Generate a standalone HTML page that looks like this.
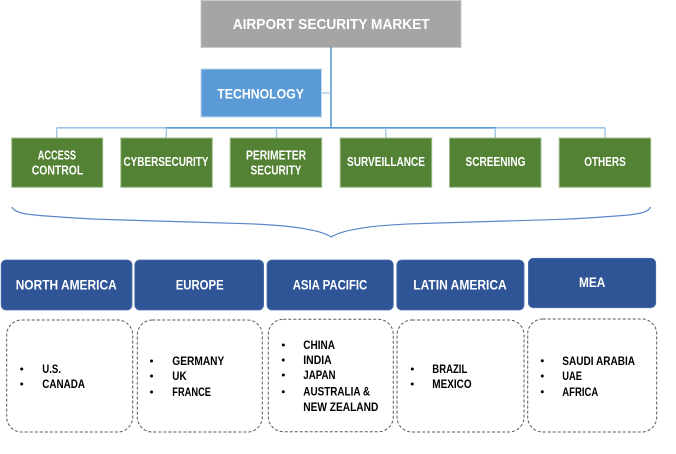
<!DOCTYPE html>
<html>
<head>
<meta charset="utf-8">
<style>
  html,body{margin:0;padding:0;background:#ffffff;}
  svg{display:block;}
  text{font-family:"Liberation Sans", Arial, sans-serif;font-weight:bold;}
  .w{fill:#ffffff;}
  .k{fill:#000000;}
</style>
</head>
<body>
<svg width="676" height="454" viewBox="0 0 676 454" xmlns="http://www.w3.org/2000/svg">
  <!-- Title -->
  <rect x="201" y="0.5" width="260" height="47" fill="#a5a5a5" stroke="#c9c9c9" stroke-width="1"/>
  <text class="w" x="232.7" y="29" font-size="15" textLength="197" lengthAdjust="spacingAndGlyphs">AIRPORT SECURITY MARKET</text>

  <!-- Vertical trunk -->
  <line x1="331" y1="47" x2="331" y2="128.5" stroke="#5b9bd5" stroke-width="1.6"/>
  <!-- Technology connector -->
  <line x1="321.5" y1="93" x2="331" y2="93" stroke="#9dc3e6" stroke-width="1.2"/>

  <!-- Technology -->
  <rect x="201" y="69" width="120.5" height="48" fill="#5b9bd5" stroke="#bdd7ee" stroke-width="1"/>
  <text class="w" x="217.3" y="98.5" font-size="13.5" textLength="86.7" lengthAdjust="spacingAndGlyphs">TECHNOLOGY</text>

  <!-- Horizontal bar -->
  <line x1="56.7" y1="127.8" x2="605" y2="127.8" stroke="#9dc3e6" stroke-width="1.6"/>
  <line x1="166" y1="127.8" x2="496" y2="127.8" stroke="#5b9bd5" stroke-width="1.6"/>
  <g stroke="#9dc3e6" stroke-width="1.3">
    <line x1="56.7" y1="127.8" x2="56.7" y2="138"/>
    <line x1="166.3" y1="127.8" x2="166.3" y2="138"/>
    <line x1="276.5" y1="127.8" x2="276.5" y2="138"/>
    <line x1="385.8" y1="127.8" x2="385.8" y2="138"/>
    <line x1="495.3" y1="127.8" x2="495.3" y2="138"/>
    <line x1="605" y1="127.8" x2="605" y2="138"/>
  </g>

  <!-- Green technology boxes -->
  <g fill="#548235" stroke="#9fbc8c" stroke-width="1">
    <rect x="11.7" y="138" width="91" height="49.3"/>
    <rect x="120.8" y="138" width="91.5" height="49.3"/>
    <rect x="230.2" y="138" width="91.5" height="49.3"/>
    <rect x="340.2" y="138" width="91.5" height="49.3"/>
    <rect x="449.5" y="138" width="91.5" height="49.3"/>
    <rect x="559.2" y="138" width="91.5" height="49.3"/>
  </g>
  <g font-size="12.5">
    <text class="w" x="37.7" y="159.3" textLength="38.3" lengthAdjust="spacingAndGlyphs">ACCESS</text>
    <text class="w" x="31.7" y="174.3" textLength="51.6" lengthAdjust="spacingAndGlyphs">CONTROL</text>
    <text class="w" x="123.5" y="166" textLength="85" lengthAdjust="spacingAndGlyphs">CYBERSECURITY</text>
    <text class="w" x="246" y="159.3" textLength="60" lengthAdjust="spacingAndGlyphs">PERIMETER</text>
    <text class="w" x="250.5" y="174.3" textLength="51" lengthAdjust="spacingAndGlyphs">SECURITY</text>
    <text class="w" x="347" y="166" textLength="78" lengthAdjust="spacingAndGlyphs">SURVEILLANCE</text>
    <text class="w" x="465.5" y="166" textLength="60" lengthAdjust="spacingAndGlyphs">SCREENING</text>
    <text class="w" x="584.2" y="166" textLength="41.6" lengthAdjust="spacingAndGlyphs">OTHERS</text>
  </g>

  <!-- Brace -->
  <path d="M12,207 C14,212 22,214 40,215.5 C60,217 80,218.5 100,219.3 C150,221 200,222 250,223.8 C275,224.8 292,226.5 305,228.8 C318,231 326,233.5 331.3,237
           C336.6,233.5 344.6,231 357.6,228.8 C370.6,226.5 387.6,224.8 412.6,223.8 C462.6,222 512.6,221 562.6,219.3 C582.6,218.5 602.6,217 622.6,215.5 C640.6,214 648.6,212 650.6,207"
        fill="none" stroke="#5a85c8" stroke-width="1.2"/>

  <!-- Region headers -->
  <g fill="#2f5597" stroke="#4a6fae" stroke-width="0.8">
    <rect x="1.2" y="260" width="130.8" height="50" rx="5" ry="5"/>
    <rect x="134.8" y="260" width="128.8" height="50" rx="5" ry="5"/>
    <rect x="267" y="260" width="126.3" height="50" rx="5" ry="5"/>
    <rect x="396.8" y="260" width="127.2" height="50" rx="5" ry="5"/>
    <rect x="528.4" y="258.3" width="127.3" height="49.4" rx="5" ry="5"/>
  </g>
  <g font-size="13.5">
    <text class="w" x="15.7" y="289.3" textLength="101" lengthAdjust="spacingAndGlyphs">NORTH AMERICA</text>
    <text class="w" x="175.7" y="289.3" textLength="48" lengthAdjust="spacingAndGlyphs">EUROPE</text>
    <text class="w" x="292.7" y="289.3" textLength="74.6" lengthAdjust="spacingAndGlyphs">ASIA PACIFIC</text>
    <text class="w" x="413.3" y="289.3" textLength="93.4" lengthAdjust="spacingAndGlyphs">LATIN AMERICA</text>
    <text class="w" x="579" y="286.8" textLength="26.3" lengthAdjust="spacingAndGlyphs">MEA</text>
  </g>

  <!-- Dashed country boxes -->
  <g fill="none" stroke="#595959" stroke-width="1" stroke-dasharray="3,2">
    <rect x="6.7" y="320" width="126" height="112" rx="15" ry="15"/>
    <rect x="137.3" y="320" width="125" height="112" rx="15" ry="15"/>
    <rect x="268.3" y="319.3" width="125" height="112.4" rx="15" ry="15"/>
    <rect x="397" y="320" width="127" height="112" rx="15" ry="15"/>
    <rect x="527.7" y="319" width="129" height="113" rx="15" ry="15"/>
  </g>

  <!-- Bullets -->
  <g fill="#000">
    <circle cx="21.7" cy="369" r="1.5"/>
    <circle cx="21.7" cy="384" r="1.5"/>
    <circle cx="151.5" cy="361" r="1.5"/>
    <circle cx="151.5" cy="376" r="1.5"/>
    <circle cx="151.5" cy="392" r="1.5"/>
    <circle cx="283.3" cy="345" r="1.5"/>
    <circle cx="283.3" cy="360" r="1.5"/>
    <circle cx="283.3" cy="375" r="1.5"/>
    <circle cx="283.3" cy="391.7" r="1.5"/>
    <circle cx="412.3" cy="369" r="1.5"/>
    <circle cx="412.3" cy="384" r="1.5"/>
    <circle cx="542.3" cy="360.7" r="1.5"/>
    <circle cx="542.3" cy="376" r="1.5"/>
    <circle cx="542.3" cy="391.7" r="1.5"/>
  </g>

  <!-- Country text -->
  <g font-size="11.5">
    <text class="k" x="42.3" y="373.2" textLength="18.7" lengthAdjust="spacingAndGlyphs">U.S.</text>
    <text class="k" x="42.3" y="388.2" textLength="42.7" lengthAdjust="spacingAndGlyphs">CANADA</text>

    <text class="k" x="172.3" y="365.2" textLength="52" lengthAdjust="spacingAndGlyphs">GERMANY</text>
    <text class="k" x="172.3" y="380.2" textLength="14.3" lengthAdjust="spacingAndGlyphs">UK</text>
    <text class="k" x="172.3" y="396.2" textLength="38.7" lengthAdjust="spacingAndGlyphs">FRANCE</text>

    <text class="k" x="303.3" y="349.2" textLength="31.7" lengthAdjust="spacingAndGlyphs">CHINA</text>
    <text class="k" x="303.3" y="364.2" textLength="28.3" lengthAdjust="spacingAndGlyphs">INDIA</text>
    <text class="k" x="303.3" y="379.2" textLength="32.3" lengthAdjust="spacingAndGlyphs">JAPAN</text>
    <text class="k" x="303.3" y="395.7" textLength="66.7" lengthAdjust="spacingAndGlyphs">AUSTRALIA &amp;</text>
    <text class="k" x="303.3" y="410.9" textLength="75" lengthAdjust="spacingAndGlyphs">NEW ZEALAND</text>

    <text class="k" x="432.3" y="373.2" textLength="35" lengthAdjust="spacingAndGlyphs">BRAZIL</text>
    <text class="k" x="432.3" y="388.2" textLength="39.3" lengthAdjust="spacingAndGlyphs">MEXICO</text>

    <text class="k" x="562.3" y="364.9" textLength="72.7" lengthAdjust="spacingAndGlyphs">SAUDI ARABIA</text>
    <text class="k" x="562.3" y="380.2" textLength="19.7" lengthAdjust="spacingAndGlyphs">UAE</text>
    <text class="k" x="562.3" y="395.9" textLength="36" lengthAdjust="spacingAndGlyphs">AFRICA</text>
  </g>
</svg>
</body>
</html>
